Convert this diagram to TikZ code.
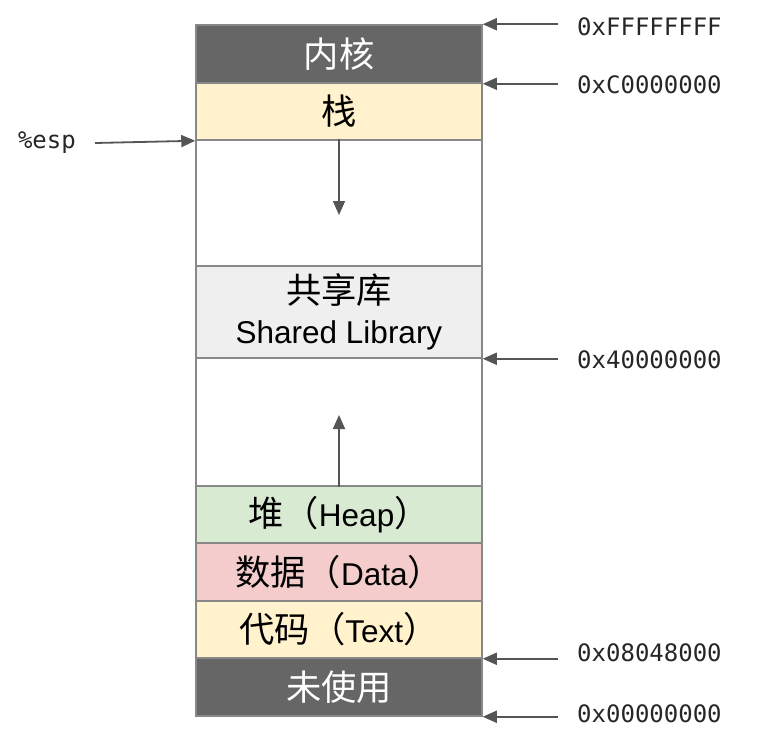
\documentclass[tikz,border=0pt]{standalone}
\usepackage{fontspec}
\setmainfont{Liberation Sans}
\newfontfamily\cjk[Scale=1.12]{Noto Sans CJK SC}
\newfontfamily\monof{DejaVu Sans Mono}
\usetikzlibrary{arrows.meta}
\definecolor{kern}{HTML}{666666}
\definecolor{stk}{HTML}{FFF2CC}
\definecolor{shl}{HTML}{EFEFF0}
\definecolor{hp}{HTML}{D9EAD3}
\definecolor{dt}{HTML}{F4CCCC}
\definecolor{bord}{HTML}{888888}
\definecolor{arrc}{HTML}{555555}
\begin{document}
\begin{tikzpicture}[x=1pt,y=-1pt,
  seg/.style={draw=bord, line width=1.5pt, minimum width=286pt, inner sep=0pt, font=\fontsize{31.5}{40}\selectfont, align=center},
  arr/.style={draw=arrc, line width=1.8pt, -{Triangle[length=14pt,width=12pt]}},
  addr/.style={anchor=west, inner sep=0pt, font=\monof\fontsize{24}{26}\selectfont, text=black!85}]
\useasboundingbox (0,0) rectangle (757,740);
\node[seg, fill=kern, text=white, minimum height=58pt] (kernel) at (339,54) {\cjk 内核};
\node[seg, fill=stk, minimum height=57pt] (stack) at (339,111.5) {\cjk 栈};
\node[seg, fill=white, minimum height=126pt] (empty1) at (339,203) {};
\node[seg, fill=shl, minimum height=92pt] (shared) at (339,312) {{\cjk 共享库}\\Shared Library};
\node[seg, fill=white, minimum height=128pt] (empty2) at (339,422) {};
\node[seg, fill=hp, minimum height=57pt] (heap) at (339,514.5) {{\cjk 堆（}Heap{\cjk ）}};
\node[seg, fill=dt, minimum height=58pt] (data) at (339,572) {{\cjk 数据（}Data{\cjk ）}};
\node[seg, fill=stk, minimum height=57pt] (text) at (339,629.5) {{\cjk 代码（}Text{\cjk ）}};
\node[seg, fill=kern, text=white, minimum height=58pt] (unused) at (339,687) {\cjk 未使用};
\coordinate (downend) at (339,215);
\coordinate (upend) at (339,415);
\draw[arr] (empty1.north) -- (empty1.north |- downend);
\draw[arr] (empty2.south) -- (empty2.south |- upend);
\node[addr] (a1) at (577,27) {0xFFFFFFFF};
\node[addr] (a2) at (577,85) {0xC0000000};
\node[addr] (a3) at (577,360) {0x40000000};
\node[addr] (a4) at (577,653) {0x08048000};
\node[addr] (a5) at (577,714) {0x00000000};
\draw[arr] ([xshift=-19pt]a1.west |- kernel.north east) -- (kernel.north east);
\draw[arr] ([xshift=-19pt]a2.west |- kernel.south east) -- (kernel.south east);
\draw[arr] ([xshift=-19pt]a3.west |- shared.south east) -- (shared.south east);
\draw[arr] ([xshift=-19pt]a4.west |- text.south east) -- (text.south east);
\draw[arr] ([xshift=-19pt]a5.west |- unused.south east) -- (unused.south east);
\node[addr, anchor=east] (esp) at (76,143) {\%esp};
\draw[arr] ([xshift=19pt]esp.east) -- (stack.south west);
\end{tikzpicture}
\end{document}
